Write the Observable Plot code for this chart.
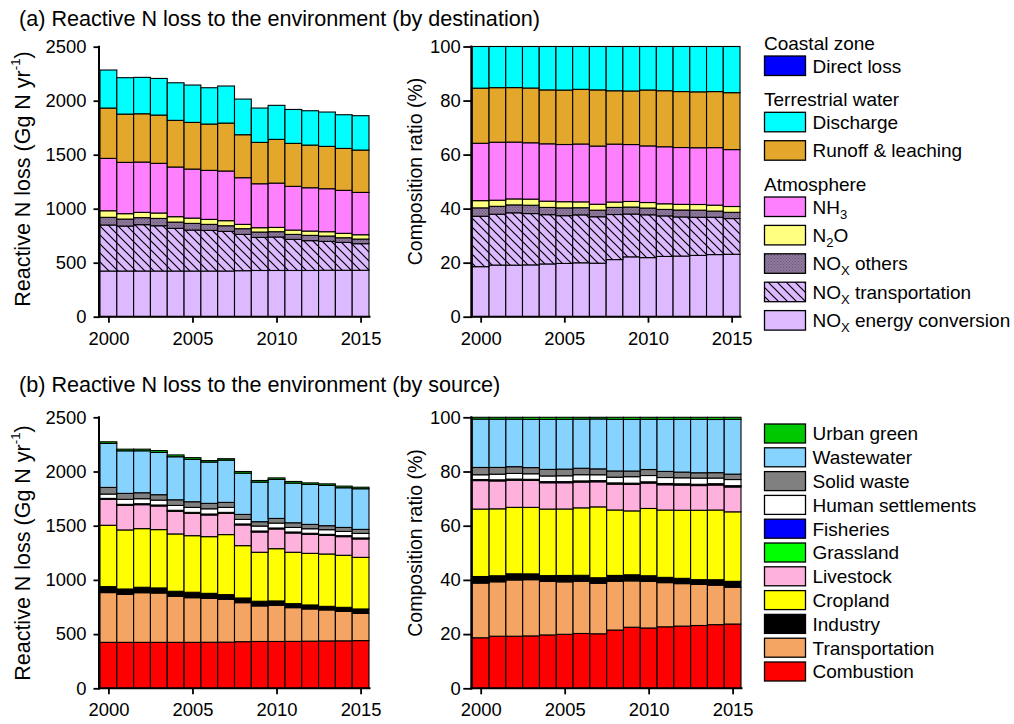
<!DOCTYPE html>
<html>
<head>
<meta charset="utf-8">
<script src="https://cdn.jsdelivr.net/npm/d3@7"></script>
<script src="https://cdn.jsdelivr.net/npm/@observablehq/plot@0.6"></script>
<style>
  body { margin: 0; background: #fff; }
  #chart { position: relative; width: 1014px; height: 724px; overflow: hidden; background: #fff;
           font-family: "Liberation Sans", Arial, sans-serif; color: #000; }
</style>
</head>
<body>
<svg width="0" height="0" style="position:absolute">
  <defs>
    <pattern id="hatch" patternUnits="userSpaceOnUse" width="9" height="9">
      <rect width="9" height="9" fill="#DDB9FF"></rect>
      <path d="M-1,-1 L10,10 M-1,8 L1,10 M8,-1 L10,1" stroke="#000" stroke-width="1.2"></path>
    </pattern>
    <pattern id="dots" patternUnits="userSpaceOnUse" width="3" height="3">
      <rect width="3" height="3" fill="#907A9E"></rect>
      <rect x="0" y="0" width="1" height="1" fill="#6A5478"></rect>
      <rect x="1.5" y="1.5" width="1" height="1" fill="#6A5478"></rect>
    </pattern>
  </defs>
</svg>
<div id="chart"></div>
<script>
const FONT = '"Liberation Sans", Arial, sans-serif';

// ---------- categories ----------
const years = [2000, 2001, 2002, 2003, 2004, 2005, 2006, 2007, 2008, 2009, 2010, 2011, 2012, 2013, 2014, 2015];
const xTickYears = [2000, 2005, 2010, 2015];
const yTicksAbs = [0, 500, 1000, 1500, 2000, 2500];
const yTicksPct = [0, 0.2, 0.4, 0.6, 0.8, 1];

// ---------- (a) by destination, Gg N / yr ----------
const noxEnergyConversion = [423, 423, 423, 423, 423, 423, 423, 423, 426, 428, 428, 428, 428, 430, 430, 430];
const noxTransportation   = [426, 416, 429, 419, 395, 379, 376, 367, 336, 306, 310, 288, 276, 267, 258, 246];
const noxOthers           = [71, 65, 65, 68, 58, 62, 56, 52, 53, 50, 49, 46, 49, 50, 43, 43];
const n2o                 = [61, 50, 49, 50, 50, 49, 46, 47, 40, 40, 40, 40, 40, 40, 41, 40];
const nh3                 = [485, 475, 466, 460, 460, 454, 454, 460, 432, 407, 410, 405, 401, 398, 398, 392];
const runoffLeaching      = [466, 447, 447, 447, 432, 432, 429, 444, 398, 383, 405, 398, 395, 392, 388, 392];
const discharge           = [352, 337, 337, 339, 348, 346, 336, 343, 330, 318, 315, 314, 318, 318, 312, 318];
const directLoss          = [0, 0, 0, 0, 0, 0, 0, 0, 0, 0, 0, 0, 0, 0, 0, 0];

// ---------- (b) by source, Gg N / yr ----------
const combustion        = [424, 424, 424, 424, 424, 424, 425, 426, 430, 432, 432, 433, 435, 437, 438, 440];
const transportation    = [459, 443, 458, 455, 425, 412, 405, 395, 360, 328, 334, 311, 297, 286, 272, 252];
const industry          = [55, 49, 50, 47, 46, 50, 46, 43, 43, 43, 40, 37, 37, 33, 37, 40];
const cropland          = [566, 545, 541, 538, 529, 522, 523, 554, 483, 452, 482, 474, 476, 483, 480, 476];
const livestock         = [239, 227, 221, 218, 209, 206, 200, 196, 191, 187, 182, 178, 176, 172, 172, 170];
const grassland         = [4, 4, 4, 4, 4, 4, 4, 4, 4, 4, 4, 4, 4, 4, 4, 4];
const fisheries         = [5, 5, 5, 5, 5, 5, 5, 5, 5, 5, 5, 5, 5, 5, 5, 5];
const humanSettlements  = [40, 46, 46, 45, 45, 46, 48, 46, 42, 46, 45, 42, 42, 43, 39, 42];
const solidWaste        = [61, 55, 55, 50, 52, 52, 50, 46, 46, 40, 43, 43, 40, 37, 37, 37];
const wastewater        = [406, 393, 387, 390, 397, 391, 381, 390, 381, 365, 360, 366, 369, 372, 366, 375];
const urbanGreen        = [15, 15, 15, 17, 17, 16, 14, 13, 15, 15, 14, 15, 14, 14, 15, 14];

// stacking order, bottom -> top
const destSeries = [
  ["NOx energy conversion", noxEnergyConversion],
  ["NOx transportation", noxTransportation],
  ["NOx others", noxOthers],
  ["N2O", n2o],
  ["NH3", nh3],
  ["Runoff & leaching", runoffLeaching],
  ["Discharge", discharge],
  ["Direct loss", directLoss]
];
const sourceSeries = [
  ["Combustion", combustion],
  ["Transportation", transportation],
  ["Industry", industry],
  ["Cropland", cropland],
  ["Livestock", livestock],
  ["Grassland", grassland],
  ["Fisheries", fisheries],
  ["Human settlements", humanSettlements],
  ["Solid waste", solidWaste],
  ["Wastewater", wastewater],
  ["Urban green", urbanGreen]
];

// styles (kept apart from the data)
const fills = {
  "Direct loss": "#0000FF",
  "Discharge": "#00FFFF",
  "Runoff & leaching": "#E3A82B",
  "NH3": "#FF80FF",
  "N2O": "#FFFF80",
  "NOx others": "url(#dots)",
  "NOx transportation": "url(#hatch)",
  "NOx energy conversion": "#DDB9FF",
  "Urban green": "#00C800",
  "Wastewater": "#87D3FF",
  "Solid waste": "#808080",
  "Human settlements": "#FFFFFF",
  "Fisheries": "#0000FF",
  "Grassland": "#00FF00",
  "Livestock": "#FFB1DE",
  "Cropland": "#FFFF00",
  "Industry": "#000000",
  "Transportation": "#F4A463",
  "Combustion": "#FF0000"
};

const legendA = [
  {header: "Coastal zone", items: ["Direct loss"]},
  {header: "Terrestrial water", items: ["Discharge", "Runoff & leaching"]},
  {header: "Atmosphere", items: ["NH3", "N2O", "NOx others", "NOx transportation", "NOx energy conversion"]}
];
const legendB = ["Urban green", "Wastewater", "Solid waste", "Human settlements", "Fisheries",
                 "Grassland", "Livestock", "Cropland", "Industry", "Transportation", "Combustion"];

function tidy(series) {
  return series.flatMap(([name, vals]) => years.map((year, i) => ({year, series: name, value: vals[i]})));
}
const destRows = tidy(destSeries);
const sourceRows = tidy(sourceSeries);

const chart = document.getElementById("chart");

function addYLabel(svg, x, cy, parts, size) {
  const t = svg.append("text")
    .attr("transform", `translate(${x},${cy}) rotate(-90)`)
    .attr("text-anchor", "middle")
    .attr("font-family", FONT)
    .attr("font-size", size)
    .attr("fill", "#000");
  parts.forEach(p => {
    const s = t.append("tspan").text(p.t);
    if (p.sup) s.attr("font-size", size * 0.62).attr("dy", -size * 0.42);
    if (p.after) s.attr("dy", size * 0.42);
  });
}

const absLabel = [{t: "Reactive N loss (Gg N yr"}, {t: "-1", sup: true}, {t: ")", after: true}];
const pctLabel = [{t: "Composition ratio (%)"}];

function drawPanel(cfg) {
  const rows = cfg.rows.filter(d => d.value > 0);
  const stackOpts = {x: "year", y: "value", z: "series", fill: d => fills[d.series], stroke: "#000", strokeWidth: 1.1};
  if (cfg.normalize) stackOpts.offset = "normalize";
  const plot = Plot.plot({
    width: cfg.width, height: cfg.height,
    marginLeft: cfg.mL, marginRight: cfg.mR, marginTop: cfg.mT, marginBottom: cfg.mB,
    style: {fontFamily: FONT, fontSize: "18.4px", color: "#000", background: "none", overflow: "visible"},
    x: {type: "band", domain: years, padding: 0, round: false},
    y: {domain: cfg.normalize ? [0, 1] : [0, 2500]},
    color: {type: "identity"},
    marks: [
      Plot.barY(rows, Plot.stackY(stackOpts)),
      Plot.axisY({ticks: cfg.normalize ? yTicksPct : yTicksAbs,
                  tickFormat: cfg.normalize ? (d => String(Math.round(d * 100))) : (d => String(d)),
                  tickSize: cfg.yTickSize, tickPadding: cfg.yTickPad, strokeWidth: 1.8, label: null}),
      Plot.axisX({ticks: xTickYears, tickFormat: d => String(d), tickSize: 6, tickPadding: 8.5,
                  strokeWidth: 1.8, label: null})
    ]
  });
  plot.style.position = "absolute";
  plot.style.left = cfg.left + "px";
  plot.style.top = cfg.top + "px";
  const svg = d3.select(plot);
  const yb = cfg.height - cfg.mB;
  svg.append("line").attr("x1", cfg.mL - 1).attr("x2", cfg.mL - 1)
    .attr("y1", cfg.mT - 1).attr("y2", yb + 1).attr("stroke", "#000").attr("stroke-width", 2);
  svg.append("line").attr("x1", cfg.mL - 2).attr("x2", cfg.width - cfg.mR + 1.5)
    .attr("y1", yb).attr("y2", yb).attr("stroke", "#000").attr("stroke-width", 2);
  addYLabel(svg, cfg.labelX, cfg.labelCy, cfg.normalize ? pctLabel : absLabel, cfg.labelSize);
  chart.appendChild(plot);
}

// (a) absolute
drawPanel({rows: destRows, normalize: false, left: 0, top: 0, width: 380, height: 360,
  mL: 100, mR: 11, mT: 46.7, mB: 43.3, yTickSize: 6.5, yTickPad: 7.5,
  labelX: 29.5, labelCy: 179, labelSize: 21.5});
// (a) composition
drawPanel({rows: destRows, normalize: true, left: 380, top: 0, width: 380, height: 360,
  mL: 92.3, mR: 20, mT: 46.5, mB: 43.3, yTickSize: 9, yTickPad: 3,
  labelX: 42, labelCy: 171.5, labelSize: 19.5});
// (b) absolute
drawPanel({rows: sourceRows, normalize: false, left: 0, top: 370, width: 380, height: 354,
  mL: 100, mR: 11, mT: 47.3, mB: 35.7, yTickSize: 6.5, yTickPad: 7.5,
  labelX: 29.5, labelCy: 183, labelSize: 21.5});
// (b) composition
drawPanel({rows: sourceRows, normalize: true, left: 380, top: 370, width: 380, height: 354,
  mL: 92.3, mR: 19, mT: 47.3, mB: 35.7, yTickSize: 9, yTickPad: 3,
  labelX: 42, labelCy: 173, labelSize: 19.5});

// ---------- titles and legends ----------
const ann = d3.select(chart).append("svg")
  .attr("width", 1014).attr("height", 724)
  .style("position", "absolute").style("left", "0px").style("top", "0px")
  .style("pointer-events", "none")
  .attr("font-family", FONT).attr("fill", "#000");

ann.append("text").attr("x", 19).attr("y", 26).attr("font-size", 21.6)
  .text("(a) Reactive N loss to the environment (by destination)");
ann.append("text").attr("x", 19).attr("y", 392).attr("font-size", 21.6)
  .text("(b) Reactive N loss to the environment (by source)");

function richParts(name) {
  if (name === "NH3") return [{t: "NH"}, {t: "3", sub: true}];
  if (name === "N2O") return [{t: "N"}, {t: "2", sub: true}, {t: "O"}];
  if (name.startsWith("NOx")) return [{t: "NO"}, {t: "X", sub: true}, {t: name.slice(3)}];
  return [{t: name}];
}
function legendItem(name, top, h) {
  ann.append("rect").attr("x", 764.5).attr("y", top).attr("width", 41).attr("height", h)
    .attr("fill", fills[name]).attr("stroke", "#000").attr("stroke-width", 1.3);
  const fs = 19;
  const t = ann.append("text").attr("x", 812.5).attr("y", top + h / 2 + 6.8).attr("font-size", fs);
  let shifted = false;
  richParts(name).forEach(p => {
    const s = t.append("tspan").text(p.t);
    if (p.sub) { s.attr("font-size", 13).attr("dy", 5); shifted = true; }
    else if (shifted) { s.attr("dy", -5); shifted = false; }
  });
}

let cy = 42.7;
legendA.forEach(g => {
  ann.append("text").attr("x", 764).attr("y", cy + 6.8).attr("font-size", 19).text(g.header);
  let top = cy + 13.3;
  let last = top;
  g.items.forEach(name => { legendItem(name, top, 19.5); last = top; top += 28.4; });
  cy = last + 43;
});
legendB.forEach((name, i) => legendItem(name, 424 + i * 23.8, 19));
</script>
</body>
</html>
